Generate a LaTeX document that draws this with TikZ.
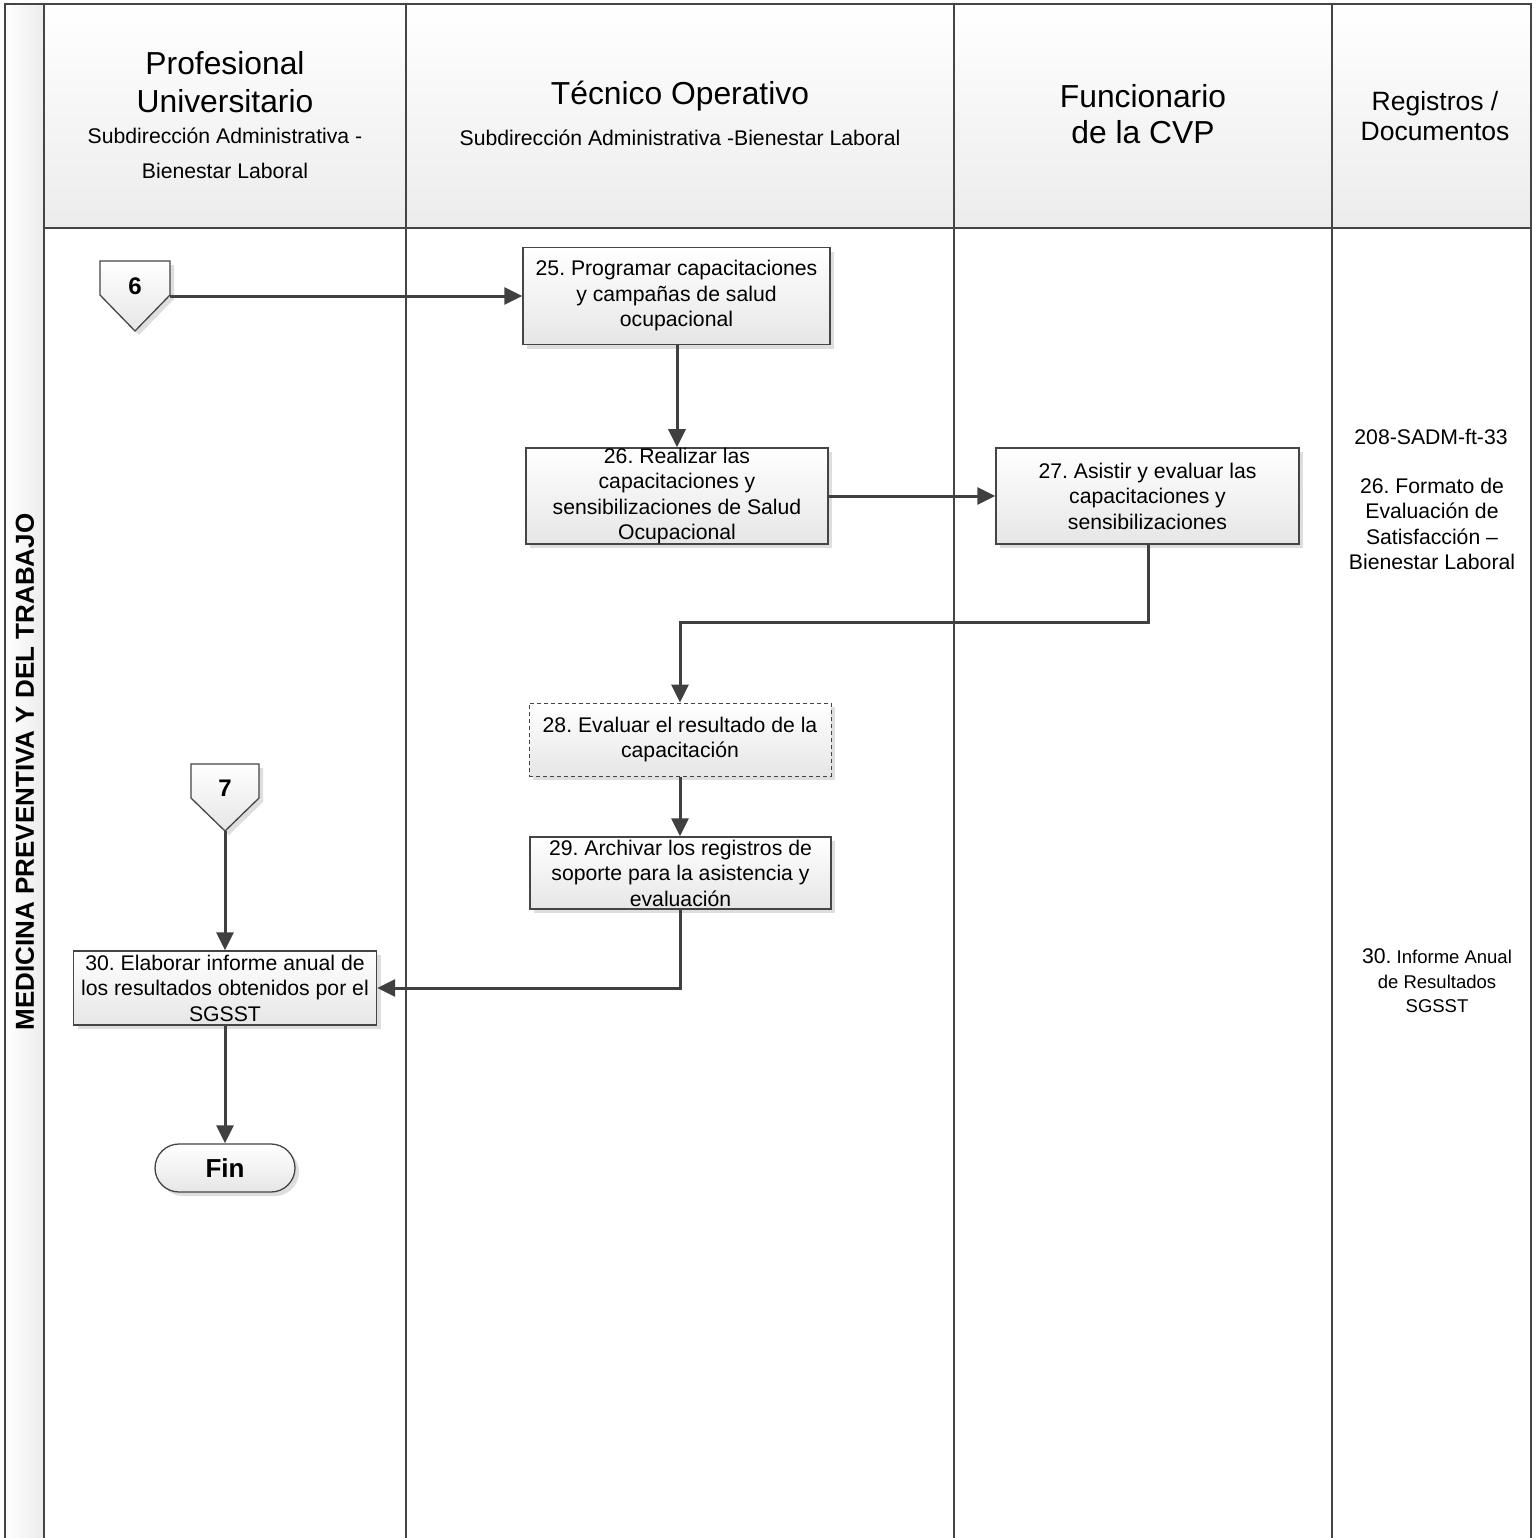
\documentclass[tikz,border=0pt]{standalone}
\usepackage{fontspec}
\setmainfont{Liberation Sans}
\usetikzlibrary{arrows.meta,shadows,calc}
\definecolor{lncol}{HTML}{454545}
\definecolor{cncol}{HTML}{404040}
\definecolor{boxbot}{HTML}{E6E6E6}
\definecolor{hdbot}{HTML}{ECECEC}
\definecolor{shcol}{HTML}{D6D6D6}
\frenchspacing
\tikzset{
  frame/.style={draw=lncol, line width=2.2pt},
  hdcell/.style={top color=white, bottom color=hdbot, draw=none},
  stepbox/.style={draw=lncol, line width=1.3pt, top color=white, bottom color=boxbot,
    align=center, inner sep=0pt, font=\fontsize{21.2}{25.5}\selectfont,
    drop shadow={shadow xshift=4pt, shadow yshift=-4pt, fill=shcol, opacity=0.8}},
  conn/.style={draw=cncol, line width=3pt, -{Triangle[length=18pt,width=17pt]}},
  bigtxt/.style={align=center, inner sep=0pt, font=\fontsize{31.8}{38}\selectfont},
  subtxt/.style={align=center, inner sep=0pt, font=\fontsize{21.2}{35}\selectfont},
  doctxt/.style={align=center, inner sep=0pt, font=\fontsize{21.2}{25.5}\selectfont},
  offpage/.style={draw=lncol, line width=1.3pt, top color=white, bottom color=boxbot,
    drop shadow={shadow xshift=4pt, shadow yshift=-4pt, fill=shcol, opacity=0.8}},
  numtxt/.style={inner sep=0pt, font=\fontsize{24}{28}\selectfont\bfseries}
}
\begin{document}
\begin{tikzpicture}[x=1pt,y=-1pt]
\useasboundingbox (0,0) rectangle (1538,1537);
\fill[white] (0,0) rectangle (1538,1537);
% band
\shade[left color=white, right color=hdbot] (5,4) rectangle (44,1545);
% header cells
\fill[hdcell] (44,4) rectangle (406,228);
\fill[hdcell] (406,4) rectangle (954,228);
\fill[hdcell] (954,4) rectangle (1332,228);
\fill[hdcell] (1332,4) rectangle (1531,228);
% frame lines
\draw[frame] (5,1545) -- (5,4) -- (1531,4) -- (1531,1545);
\draw[frame] (44,4) -- (44,1545);
\draw[frame] (406,4) -- (406,1545);
\draw[frame] (954,4) -- (954,1545);
\draw[frame] (1332,4) -- (1332,1545);
\draw[frame] (44,228) -- (1531,228);

% header texts
\node[bigtxt] (h1a) at (225,82) {Profesional\\Universitario};
\node[subtxt] (h1b) at (225,153) {Subdirección Administrativa -\\Bienestar Laboral};
\node[bigtxt] (h2a) at (680,96) {Técnico Operativo};
\node[subtxt] (h2b) at (680,138) {Subdirección Administrativa -Bienestar Laboral};
\node[bigtxt, font=\fontsize{31.8}{35.5}\selectfont] (h3) at (1143,114) {Funcionario\\de la CVP};
\node[bigtxt, font=\fontsize{26.5}{30.5}\selectfont] (h4) at (1435,116) {Registros /\\Documentos};

% band label
\node[rotate=90, inner sep=0pt, font=\fontsize{26}{30}\selectfont\bfseries] (band) at (25,772) {MEDICINA PREVENTIVA Y DEL TRABAJO};

% off-page connector 6
\path[offpage] (100,261) -- (170,261) -- (170,295) -- (135,331) -- (100,295) -- cycle;
\node[numtxt] (c6) at (135,286) {6};
\coordinate (c6r) at (170,296);
% off-page connector 7
\path[offpage] (191,764) -- (259,764) -- (259,798) -- (225,831) -- (191,798) -- cycle;
\node[numtxt] (c7) at (225,788) {7};
\coordinate (c7tip) at (225,831);

% process boxes
\node[stepbox, minimum width=307pt, minimum height=97pt] (b25) at (676.5,296)
  {25. Programar capacitaciones\\y campañas de salud\\ocupacional};
\node[stepbox, minimum width=302pt, minimum height=96pt] (b26) at (677,496)
  {26. Realizar las\\capacitaciones y\\sensibilizaciones de Salud\\Ocupacional};
\node[stepbox, minimum width=303pt, minimum height=96pt] (b27) at (1147.5,496)
  {27. Asistir y evaluar las\\capacitaciones y\\sensibilizaciones};
\node[stepbox, dashed, dash pattern=on 4pt off 3pt, line width=1pt, minimum width=302pt, minimum height=73pt] (b28) at (680,739.5)
  {28. Evaluar el resultado de la\\capacitación};
\node[stepbox, minimum width=301pt, minimum height=72pt] (b29) at (680.5,873)
  {29. Archivar los registros de\\soporte para la asistencia y\\evaluación};
\node[stepbox, minimum width=303pt, minimum height=74pt] (b30) at (225,988)
  {30. Elaborar informe anual de\\los resultados obtenidos por el\\SGSST};
\node[stepbox, rounded corners=24pt, minimum width=140pt, minimum height=48pt,
  font=\fontsize{26}{30}\selectfont\bfseries] (fin) at (225,1168) {Fin};

% documents column
\node[doctxt] (r1) at (1431,437) {208-SADM-ft-33};
\node[doctxt] (r2) at (1432,524) {26. Formato de\\Evaluación de\\Satisfacción –\\Bienestar Laboral};
\node[doctxt, font=\fontsize{18.5}{24.5}\selectfont] (r3) at (1437,981)
  {{\fontsize{21.2}{24.5}\selectfont 30.} Informe Anual\\de Resultados\\SGSST};

% connectors
\draw[conn] (c6r) -- (b25.west |- c6r);
\draw[conn] (b25.south -| 677,0) -- (b26.north);
\draw[conn] (b26.east) -- (b27.west);
\draw[conn] (b27.south -| 1148,0) -- (1148,622) -| (b28.north);
\draw[conn] (b28.south) -- (b29.north -| b28.south);
\draw[conn] (b29.south) |- (b30.east);
\draw[conn] (c7tip) -- (b30.north);
\draw[conn] (b30.south) -- (fin.north);
\end{tikzpicture}
\end{document}
